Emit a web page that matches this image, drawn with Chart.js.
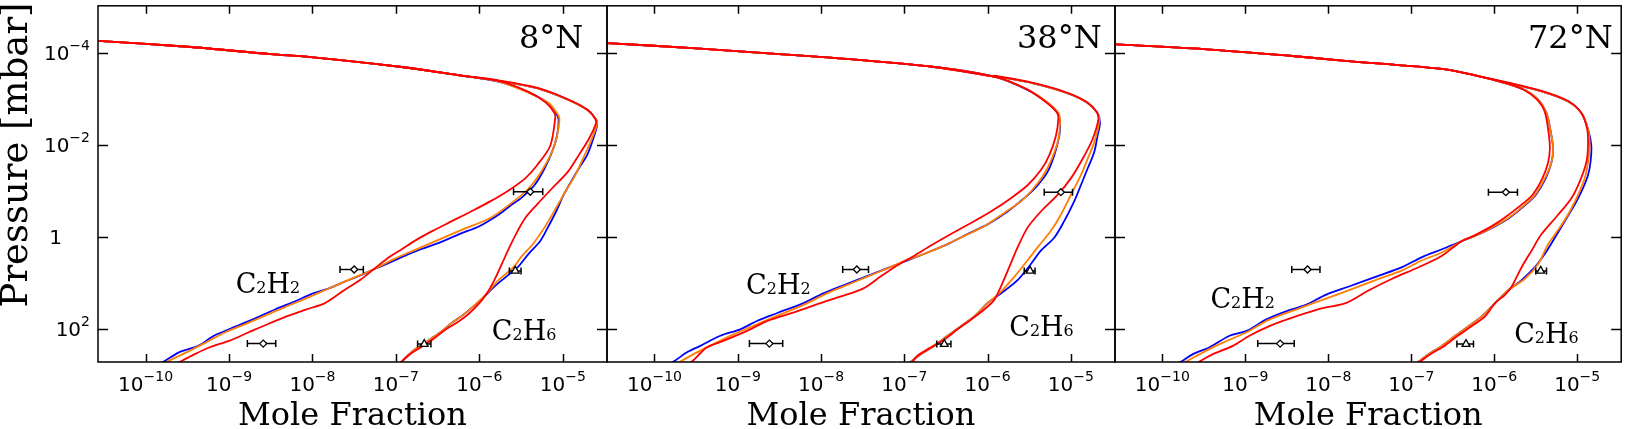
<!DOCTYPE html>
<html lang="en">
<head>
<meta charset="UTF-8">
<title>C2H2 and C2H6 profiles</title>
<script src="https://cdn.jsdelivr.net/npm/chart.js"></script>
<style>
  html, body { margin: 0; padding: 0; background: #fff; overflow: hidden; }
  .panel { position: absolute; top: 0; height: 429px; }
</style>
</head>
<body>
<div class="panel" style="left:0px"><canvas id="c1" width="617" height="429"></canvas></div>
<div class="panel" style="left:597px"><canvas id="c2" width="528" height="429"></canvas></div>
<div class="panel" style="left:1105px"><canvas id="c3" width="522" height="429"></canvas></div>
<script>
// all profile values are [log10 mole fraction, log10 pressure in mbar]
const panelTitles = ['8°N', '38°N', '72°N'];
const xTickExp = [-10, -9, -8, -7, -6, -5];
const xTickLabels = [['10', '−10'], ['10', '−9'], ['10', '−8'], ['10', '−7'], ['10', '−6'], ['10', '−5']];
const yTickExp = [-4, -2, 0, 2];
const yTickLabels = [['10', '−4'], ['10', '−2'], ['1', ''], ['10', '2']];

// 8N
const p1Top = [[-10.9,-4.30],[-10.58,-4.27],[-9.5,-4.14],[-8.5,-3.98],[-7.99,-3.91],[-6.93,-3.70],[-6.24,-3.52]];
const p1C2H2Blue = [[-5.77,-3.38],[-5.41,-3.15],[-5.18,-2.92],[-5.08,-2.70],[-5.05,-2.55],[-5.07,-2.20],[-5.13,-1.85],[-5.22,-1.49],[-5.34,-1.13],[-5.50,-0.85],[-5.64,-0.67],[-5.77,-0.49],[-6.00,-0.24],[-6.24,-0.07],[-6.47,0.11],[-6.70,0.26],[-6.93,0.43],[-7.11,0.58],[-7.27,0.70],[-7.43,0.83],[-7.62,0.97],[-7.80,1.11],[-7.99,1.22],[-8.22,1.40],[-8.45,1.57],[-8.72,1.79],[-9.00,2.00],[-9.18,2.14],[-9.37,2.36],[-9.60,2.50],[-9.78,2.70],[-9.92,2.82]];
const p1C2H2Orange = [[-5.77,-3.39],[-5.41,-3.14],[-5.17,-2.92],[-5.07,-2.70],[-5.04,-2.58],[-5.07,-2.20],[-5.13,-1.85],[-5.26,-1.42],[-5.41,-1.06],[-5.59,-0.78],[-5.87,-0.42],[-6.24,-0.14],[-6.70,0.22],[-7.02,0.47],[-7.27,0.70],[-7.53,0.90],[-7.71,1.04],[-7.94,1.22],[-8.17,1.40],[-8.45,1.61],[-8.77,1.86],[-9.05,2.07],[-9.28,2.29],[-9.51,2.50],[-9.74,2.70],[-9.86,2.82]];
const p1C2H2Red = [[-5.77,-3.40],[-5.41,-3.16],[-5.20,-2.92],[-5.10,-2.70],[-5.09,-2.60],[-5.15,-1.99],[-5.31,-1.56],[-5.45,-1.28],[-5.64,-1.03],[-5.87,-0.78],[-6.10,-0.56],[-6.33,-0.35],[-6.56,-0.14],[-6.74,0.04],[-6.93,0.26],[-7.11,0.47],[-7.27,0.70],[-7.43,0.93],[-7.62,1.15],[-7.85,1.43],[-8.08,1.57],[-8.31,1.72],[-8.54,1.89],[-8.77,2.07],[-9.00,2.25],[-9.23,2.39],[-9.41,2.54],[-9.58,2.70],[-9.70,2.82]];
const p1C2H6Blue = [[-5.77,-3.40],[-5.31,-3.24],[-4.94,-2.99],[-4.71,-2.77],[-4.60,-2.56],[-4.59,-2.42],[-4.65,-2.06],[-4.71,-1.78],[-4.81,-1.49],[-4.90,-1.21],[-4.99,-0.92],[-5.08,-0.56],[-5.18,-0.21],[-5.27,0.08],[-5.41,0.36],[-5.54,0.65],[-5.68,0.86],[-5.82,1.07],[-5.94,1.29],[-6.05,1.47],[-6.19,1.68],[-6.33,1.86],[-6.47,2.07],[-6.65,2.29],[-6.79,2.46],[-6.93,2.70],[-7.00,2.82]];
const p1C2H6Orange = [[-5.77,-3.40],[-5.31,-3.24],[-4.94,-2.99],[-4.71,-2.77],[-4.60,-2.56],[-4.59,-2.45],[-4.67,-2.06],[-4.76,-1.70],[-4.85,-1.35],[-4.97,-0.99],[-5.08,-0.64],[-5.22,-0.21],[-5.36,0.15],[-5.50,0.43],[-5.59,0.65],[-5.77,0.93],[-5.91,1.22],[-6.05,1.47],[-6.19,1.68],[-6.33,1.86],[-6.47,2.07],[-6.65,2.29],[-6.79,2.46],[-6.93,2.70],[-7.00,2.82]];
const p1C2H6Red = [[-5.77,-3.41],[-5.31,-3.25],[-4.94,-3.00],[-4.71,-2.78],[-4.62,-2.60],[-4.60,-2.49],[-4.69,-2.13],[-4.81,-1.78],[-4.94,-1.42],[-5.13,-1.06],[-5.31,-0.71],[-5.45,-0.42],[-5.54,-0.14],[-5.64,0.22],[-5.73,0.58],[-5.82,0.93],[-5.91,1.22],[-6.00,1.43],[-6.12,1.65],[-6.24,1.82],[-6.40,2.00],[-6.56,2.22],[-6.70,2.39],[-6.83,2.54],[-6.93,2.70],[-6.99,2.82]];
// observations: [log x, log p, log x low, log x high]
const p1Diamonds = [[-5.39,-0.99,-5.59,-5.24],[-7.50,0.70,-7.67,-7.39],[-8.59,2.31,-8.78,-8.44]];
const p1Triangles = [[-5.57,0.73,-5.64,-5.50],[-6.66,2.32,-6.74,-6.58]];

// 38N
const p2Top = [[-10.9,-4.25],[-10.57,-4.22],[-9.45,-4.10],[-8.5,-3.98],[-7.85,-3.90],[-6.64,-3.70],[-5.92,-3.49]];
const p2C2H2Blue = [[-5.52,-3.20],[-5.28,-2.92],[-5.16,-2.70],[-5.13,-2.49],[-5.14,-2.20],[-5.20,-1.78],[-5.28,-1.42],[-5.40,-1.13],[-5.56,-0.85],[-5.76,-0.56],[-6.00,-0.28],[-6.24,-0.07],[-6.48,0.15],[-6.72,0.33],[-6.96,0.50],[-7.17,0.65],[-7.37,0.79],[-7.57,0.93],[-7.77,1.07],[-8.01,1.25],[-8.21,1.43],[-8.53,1.65],[-8.77,1.82],[-8.97,2.00],[-9.21,2.14],[-9.45,2.36],[-9.61,2.50],[-9.77,2.70],[-9.90,2.82]];
const p2C2H2Orange = [[-5.52,-3.21],[-5.28,-2.93],[-5.15,-2.70],[-5.13,-2.52],[-5.15,-2.13],[-5.23,-1.70],[-5.33,-1.35],[-5.45,-1.06],[-5.60,-0.78],[-5.80,-0.53],[-6.04,-0.24],[-6.28,-0.03],[-6.52,0.18],[-6.76,0.36],[-6.98,0.50],[-7.21,0.68],[-7.45,0.86],[-7.69,1.04],[-7.93,1.22],[-8.21,1.47],[-8.49,1.68],[-8.77,1.89],[-9.05,2.11],[-9.29,2.32],[-9.49,2.50],[-9.69,2.70],[-9.82,2.82]];
const p2C2H2Red = [[-5.53,-3.22],[-5.30,-2.94],[-5.17,-2.72],[-5.15,-2.60],[-5.18,-2.20],[-5.26,-1.78],[-5.36,-1.46],[-5.52,-1.13],[-5.72,-0.85],[-5.96,-0.56],[-6.20,-0.31],[-6.44,-0.07],[-6.68,0.18],[-6.88,0.40],[-6.98,0.50],[-7.12,0.65],[-7.29,0.86],[-7.49,1.11],[-7.77,1.29],[-8.01,1.43],[-8.29,1.61],[-8.65,1.82],[-8.85,2.00],[-9.13,2.22],[-9.37,2.39],[-9.45,2.52],[-9.55,2.70],[-9.65,2.82]];
const p2C2H6Blue = [[-5.92,-3.50],[-5.44,-3.34],[-5.04,-3.13],[-4.80,-2.92],[-4.68,-2.70],[-4.65,-2.49],[-4.68,-2.20],[-4.72,-1.85],[-4.80,-1.49],[-4.88,-1.13],[-4.96,-0.78],[-5.08,-0.35],[-5.20,0.01],[-5.36,0.29],[-5.48,0.58],[-5.64,0.93],[-5.84,1.22],[-6.00,1.43],[-6.16,1.72],[-6.32,1.93],[-6.48,2.14],[-6.64,2.36],[-6.80,2.54],[-6.92,2.70],[-7.00,2.82]];
const p2C2H6Orange = [[-5.92,-3.50],[-5.44,-3.34],[-5.04,-3.13],[-4.80,-2.92],[-4.68,-2.70],[-4.66,-2.52],[-4.72,-2.06],[-4.80,-1.70],[-4.88,-1.35],[-5.00,-0.92],[-5.12,-0.49],[-5.24,-0.14],[-5.40,0.22],[-5.52,0.50],[-5.68,0.86],[-5.86,1.22],[-6.00,1.43],[-6.16,1.72],[-6.32,1.93],[-6.48,2.14],[-6.64,2.36],[-6.80,2.54],[-6.92,2.70],[-7.00,2.82]];
const p2C2H6Red = [[-5.92,-3.51],[-5.44,-3.35],[-5.04,-3.14],[-4.80,-2.93],[-4.69,-2.72],[-4.67,-2.56],[-4.74,-2.13],[-4.86,-1.70],[-5.00,-1.28],[-5.16,-0.92],[-5.36,-0.56],[-5.52,-0.21],[-5.64,0.22],[-5.74,0.65],[-5.84,1.07],[-5.92,1.36],[-6.04,1.57],[-6.20,1.79],[-6.36,2.00],[-6.52,2.22],[-6.68,2.39],[-6.84,2.57],[-6.90,2.70],[-6.96,2.82]];
const p2Diamonds = [[-5.12,-0.98,-5.32,-4.98],[-7.57,0.70,-7.74,-7.43],[-8.62,2.31,-8.86,-8.46]];
const p2Triangles = [[-5.49,0.73,-5.56,-5.43],[-6.52,2.32,-6.61,-6.44]];

// 72N
const p3Top = [[-10.9,-4.22],[-10.55,-4.19],[-9.5,-4.09],[-8.5,-3.95],[-7.83,-3.84],[-6.63,-3.66],[-6.23,-3.52]];
const p3C2H2Blue = [[-5.83,-3.33],[-5.63,-3.20],[-5.47,-2.99],[-5.37,-2.70],[-5.31,-2.20],[-5.29,-1.92],[-5.31,-1.63],[-5.38,-1.28],[-5.50,-0.92],[-5.62,-0.71],[-5.82,-0.42],[-6.02,-0.21],[-6.23,-0.03],[-6.39,0.08],[-6.63,0.26],[-6.87,0.43],[-7.11,0.65],[-7.43,0.86],[-7.75,1.07],[-8.03,1.25],[-8.27,1.47],[-8.51,1.61],[-8.75,1.79],[-8.99,2.04],[-9.19,2.14],[-9.43,2.39],[-9.63,2.54],[-9.77,2.70],[-9.90,2.82]];
const p3C2H2Orange = [[-5.83,-3.33],[-5.63,-3.20],[-5.47,-2.99],[-5.37,-2.70],[-5.31,-2.20],[-5.29,-1.92],[-5.31,-1.63],[-5.39,-1.28],[-5.51,-0.92],[-5.63,-0.71],[-5.83,-0.42],[-6.03,-0.21],[-6.23,-0.03],[-6.39,0.08],[-6.63,0.33],[-6.87,0.50],[-7.11,0.72],[-7.43,0.93],[-7.75,1.15],[-8.07,1.36],[-8.39,1.57],[-8.71,1.79],[-8.99,2.07],[-9.27,2.29],[-9.51,2.50],[-9.71,2.70],[-9.84,2.82]];
const p3C2H2Red = [[-5.84,-3.34],[-5.65,-3.21],[-5.49,-3.00],[-5.39,-2.72],[-5.34,-2.20],[-5.33,-1.92],[-5.35,-1.63],[-5.42,-1.28],[-5.54,-0.92],[-5.67,-0.71],[-5.88,-0.42],[-6.06,-0.21],[-6.25,-0.03],[-6.39,0.08],[-6.63,0.40],[-6.91,0.65],[-7.23,0.90],[-7.51,1.15],[-7.79,1.43],[-8.07,1.54],[-8.39,1.72],[-8.71,1.93],[-8.95,2.14],[-9.15,2.36],[-9.39,2.54],[-9.55,2.70],[-9.66,2.82]];
const p3C2H6Blue = [[-5.83,-3.35],[-5.43,-3.17],[-5.11,-2.95],[-4.95,-2.70],[-4.87,-2.35],[-4.83,-1.99],[-4.84,-1.63],[-4.87,-1.35],[-4.95,-0.99],[-5.03,-0.71],[-5.15,-0.35],[-5.27,0.01],[-5.39,0.36],[-5.51,0.65],[-5.67,0.93],[-5.83,1.15],[-5.99,1.43],[-6.15,1.72],[-6.31,1.93],[-6.47,2.14],[-6.63,2.36],[-6.79,2.54],[-6.91,2.70],[-7.00,2.82]];
const p3C2H6Orange = [[-5.83,-3.35],[-5.43,-3.17],[-5.11,-2.95],[-4.95,-2.70],[-4.87,-2.35],[-4.85,-1.99],[-4.87,-1.63],[-4.91,-1.28],[-4.99,-0.92],[-5.09,-0.56],[-5.21,-0.21],[-5.35,0.15],[-5.47,0.58],[-5.63,0.90],[-5.83,1.15],[-5.99,1.43],[-6.15,1.72],[-6.31,1.93],[-6.47,2.14],[-6.63,2.36],[-6.79,2.54],[-6.91,2.70],[-7.00,2.82]];
const p3C2H6Red = [[-5.83,-3.36],[-5.43,-3.18],[-5.11,-2.96],[-4.95,-2.70],[-4.88,-2.35],[-4.87,-1.99],[-4.89,-1.63],[-4.97,-1.21],[-5.07,-0.85],[-5.23,-0.49],[-5.43,-0.07],[-5.55,0.29],[-5.67,0.65],[-5.79,1.07],[-5.87,1.25],[-5.99,1.43],[-6.11,1.72],[-6.27,1.93],[-6.44,2.14],[-6.60,2.36],[-6.77,2.54],[-6.89,2.70],[-6.96,2.82]];
const p3Diamonds = [[-5.86,-0.98,-6.07,-5.72],[-8.25,0.70,-8.44,-8.10],[-8.58,2.31,-8.85,-8.41]];
const p3Triangles = [[-5.44,0.73,-5.50,-5.37],[-6.34,2.32,-6.45,-6.25]];

// species label anchors (log x, log p of left/baseline)
const p1Labels = [[-8.92, 1.21], [-5.85, 2.24]];
const p2Labels = [[-8.90, 1.23], [-5.74, 2.15]];
const p3Labels = [[-9.42, 1.53], [-5.76, 2.30]];

const BLUE = '#0000ff', ORANGE = '#ff7f00', RED = '#ff0000';
const SERIF = '"DejaVu Serif", serif';
const SANS = '"DejaVu Sans", sans-serif';

const toPts = arr => arr.map(([lx, lp]) => ({ x: Math.pow(10, lx), y: Math.pow(10, lp) }));

function profile(top, pairs, color) {
    return {
        data: toPts([...top, ...pairs]),
        showLine: true,
        borderColor: color,
        borderWidth: 1.8,
        pointRadius: 0,
        tension: 0.3
    };
}

function errorBars(obs) {
    return obs.map(o => ({
        data: toPts([[o[2], o[1]], [o[3], o[1]]]),
        showLine: true,
        borderColor: '#000',
        borderWidth: 1.5,
        pointStyle: 'line',
        pointRotation: 90,
        pointRadius: 3.5,
        pointBorderColor: '#000',
        pointBorderWidth: 1.5
    }));
}

function markers(obs, style, radius) {
    return {
        data: toPts(obs.map(o => [o[0], o[1]])),
        pointStyle: style,
        pointRadius: radius,
        pointBackgroundColor: '#fff',
        pointBorderColor: '#000',
        pointBorderWidth: 1.3
    };
}

// 10 with a raised exponent, like the mathtext labels of the original
function drawPower(ctx, parts, x, y, align) {
    ctx.font = '20px ' + SANS;
    const wb = ctx.measureText(parts[0]).width;
    ctx.font = '14px ' + SANS;
    const we = parts[1] ? ctx.measureText(parts[1]).width : 0;
    const x0 = align === 'center' ? x - (wb + we) / 2 : x - wb - we;
    ctx.font = '20px ' + SANS;
    ctx.fillText(parts[0], x0, y);
    if (parts[1]) {
        ctx.font = '14px ' + SANS;
        ctx.fillText(parts[1], x0 + wb, y - 10);
    }
}

// frame, inward ticks, tick labels, panel title and species names
function decorations(idx, titleDx, labels) {
    return {
        id: 'decorations',
        afterDraw(chart) {
            const ctx = chart.ctx;
            const a = chart.chartArea;
            const xs = chart.scales.x, ys = chart.scales.y;
            ctx.save();
            ctx.strokeStyle = '#000';
            ctx.lineWidth = 1.5;
            ctx.strokeRect(a.left, a.top, a.right - a.left, a.bottom - a.top);
            ctx.beginPath();
            xTickExp.forEach(e => {
                const px = Math.round(xs.getPixelForValue(Math.pow(10, e))) + 0.5;
                ctx.moveTo(px, a.bottom); ctx.lineTo(px, a.bottom - 8);
                ctx.moveTo(px, a.top); ctx.lineTo(px, a.top + 8);
            });
            yTickExp.forEach(e => {
                const py = Math.round(ys.getPixelForValue(Math.pow(10, e))) + 0.5;
                ctx.moveTo(a.left, py); ctx.lineTo(a.left + 10, py);
                ctx.moveTo(a.right, py); ctx.lineTo(a.right - 10, py);
            });
            ctx.stroke();

            ctx.fillStyle = '#000';
            ctx.textBaseline = 'alphabetic';
            ctx.textAlign = 'left';
            xTickExp.forEach((e, i) => {
                drawPower(ctx, xTickLabels[i], xs.getPixelForValue(Math.pow(10, e)), a.bottom + 29, 'center');
            });
            if (idx === 0) {
                yTickExp.forEach((e, i) => {
                    const py = ys.getPixelForValue(Math.pow(10, e));
                    const right = yTickLabels[i][1] ? a.left - 8 : a.left - 36;
                    drawPower(ctx, yTickLabels[i], right, py + 7, 'right');
                });
                ctx.save();
                ctx.translate(27, 155);
                ctx.rotate(-Math.PI / 2);
                ctx.textAlign = 'center';
                ctx.font = '37px ' + SERIF;
                ctx.fillText('Pressure [mbar]', 0, 0);
                ctx.restore();
            }

            ctx.font = '32px ' + SERIF;
            ctx.fillText(panelTitles[idx], a.left + titleDx, 48);

            const formulas = [['C', '2', 'H', '2'], ['C', '2', 'H', '6']];
            labels.forEach((pos, i) => {
                let x = xs.getPixelForValue(Math.pow(10, pos[0]));
                const y = ys.getPixelForValue(Math.pow(10, pos[1]));
                formulas[i].forEach((t, k) => {
                    ctx.font = (k % 2 ? '16px ' : '27px ') + SERIF;
                    ctx.fillText(t, x, y);
                    x += ctx.measureText(t).width;
                });
            });
            ctx.restore();
        }
    };
}

function makePanel(id, idx, top, lines, diamonds, triangles, labels, pad, titleDx) {
    const first = idx === 0;
    const datasets = [
        markers(diamonds, 'rectRot', 3.5),
        markers(triangles, 'triangle', 4.5),
        ...errorBars(diamonds),
        ...errorBars(triangles),
        profile(top, lines.c2h6Red, RED),
        profile(top, lines.c2h2Red, RED),
        profile(top, lines.c2h6Orange, ORANGE),
        profile(top, lines.c2h2Orange, ORANGE),
        profile(top, lines.c2h6Blue, BLUE),
        profile(top, lines.c2h2Blue, BLUE)
    ];
    return new Chart(document.getElementById(id), {
        type: 'scatter',
        data: { datasets },
        options: {
            responsive: false,
            animation: false,
            events: [],
            layout: { padding: pad },
            plugins: { legend: { display: false }, tooltip: { enabled: false } },
            scales: {
                x: {
                    type: 'logarithmic',
                    min: Math.pow(10, -10.57),
                    max: Math.pow(10, -4.47),
                    grid: { display: false, drawTicks: false },
                    border: { display: false },
                    afterBuildTicks: s => { s.ticks = xTickExp.map(e => ({ value: Math.pow(10, e) })); },
                    afterFit: s => { s.height = 67; },
                    ticks: { display: false },
                    title: {
                        display: true,
                        text: 'Mole Fraction',
                        color: '#000',
                        font: { family: SERIF, size: 32, lineHeight: 0.8 },
                        padding: { top: 0, bottom: 0 }
                    }
                },
                y: {
                    type: 'logarithmic',
                    reverse: true,
                    display: first,
                    min: Math.pow(10, -5.03),
                    max: Math.pow(10, 2.71),
                    grid: { display: false, drawTicks: false },
                    border: { display: false },
                    afterBuildTicks: s => { s.ticks = yTickExp.map(e => ({ value: Math.pow(10, e) })); },
                    afterFit: s => { s.width = first ? 98 : 0; },
                    ticks: { display: false },
                    title: { display: false }
                }
            }
        },
        plugins: [decorations(idx, titleDx, labels)]
    });
}

makePanel('c1', 0, p1Top, {
    c2h2Blue: p1C2H2Blue, c2h2Orange: p1C2H2Orange, c2h2Red: p1C2H2Red,
    c2h6Blue: p1C2H6Blue, c2h6Orange: p1C2H6Orange, c2h6Red: p1C2H6Red
}, p1Diamonds, p1Triangles, p1Labels, { top: 3, left: 0, right: 10, bottom: 0 }, 421);

makePanel('c2', 1, p2Top, {
    c2h2Blue: p2C2H2Blue, c2h2Orange: p2C2H2Orange, c2h2Red: p2C2H2Red,
    c2h6Blue: p2C2H6Blue, c2h6Orange: p2C2H6Orange, c2h6Red: p2C2H6Red
}, p2Diamonds, p2Triangles, p2Labels, { top: 3, left: 10, right: 10, bottom: 0 }, 410);

makePanel('c3', 2, p3Top, {
    c2h2Blue: p3C2H2Blue, c2h2Orange: p3C2H2Orange, c2h2Red: p3C2H2Red,
    c2h6Blue: p3C2H6Blue, c2h6Orange: p3C2H6Orange, c2h6Red: p3C2H6Red
}, p3Diamonds, p3Triangles, p3Labels, { top: 3, left: 10, right: 4, bottom: 0 }, 413);
</script>
</body>
</html>
